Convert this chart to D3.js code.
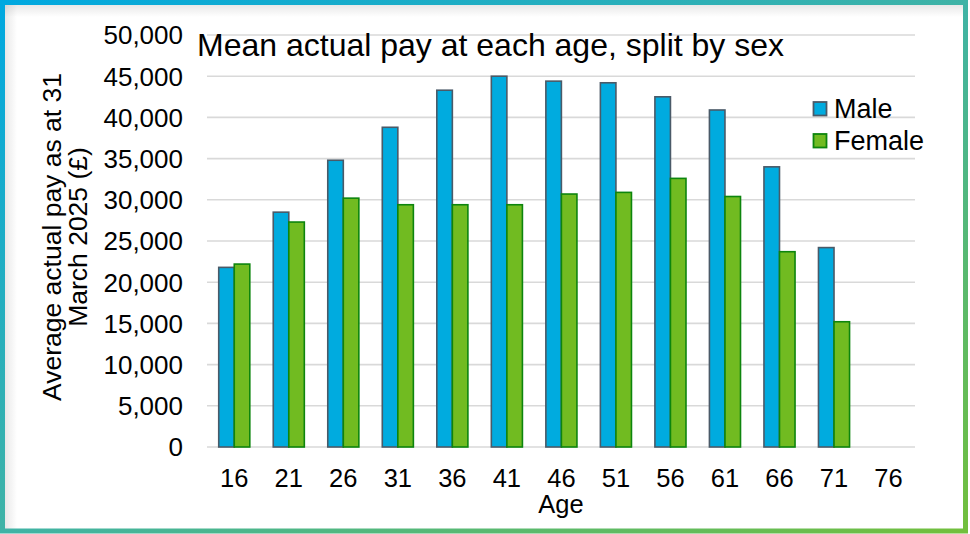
<!DOCTYPE html>
<html>
<head>
<meta charset="utf-8">
<script src="https://cdn.jsdelivr.net/npm/d3@7"></script>
<style>
  html, body { margin: 0; padding: 0; background: #fff; }
  svg { display: block; }
  text { font-family: "Liberation Sans", Arial, sans-serif; fill: #000; }
</style>
</head>
<body>
<div id="chart"></div>
<script>
const ages = [16, 21, 26, 31, 36, 41, 46, 51, 56, 61, 66, 71, 76];
const male = [21800, 28500, 34800, 38800, 43300, 45000, 44400, 44200, 42500, 40900, 34000, 24200, null];
const female = [22200, 27300, 30200, 29400, 29400, 29400, 30700, 30900, 32600, 30400, 23700, 15200, null];
const yTicks = [0, 5000, 10000, 15000, 20000, 25000, 30000, 35000, 40000, 45000, 50000];
const seriesNames = ["Male", "Female"];
const titleText = "Mean actual pay at each age, split by sex";
const yLabelLines = ["Average actual pay as at 31", "March 2025 (£)"];
const xLabelText = "Age";

const W = 970, H = 534;
const svg = d3.select("#chart").append("svg").attr("width", W).attr("height", H);
const defs = svg.append("defs");

// border gradient
const bg = defs.append("linearGradient").attr("id", "borderGrad")
  .attr("x1", "0").attr("y1", "0").attr("x2", "1").attr("y2", "1");
bg.append("stop").attr("offset", "0").attr("stop-color", "#00a8e0");
bg.append("stop").attr("offset", "0.5").attr("stop-color", "#3fb3a6");
bg.append("stop").attr("offset", "1").attr("stop-color", "#72bf3c");

// inner shadows
const sl = defs.append("linearGradient").attr("id", "shL").attr("x1", "0").attr("x2", "1").attr("y1", "0").attr("y2", "0");
sl.append("stop").attr("offset", "0").attr("stop-color", "#000").attr("stop-opacity", 0.09);
sl.append("stop").attr("offset", "1").attr("stop-color", "#000").attr("stop-opacity", 0);
const st = defs.append("linearGradient").attr("id", "shT").attr("x1", "0").attr("x2", "0").attr("y1", "0").attr("y2", "1");
st.append("stop").attr("offset", "0").attr("stop-color", "#000").attr("stop-opacity", 0.09);
st.append("stop").attr("offset", "1").attr("stop-color", "#000").attr("stop-opacity", 0);

svg.append("rect").attr("x", 0).attr("y", 0).attr("width", W).attr("height", H).attr("fill", "#fff");
svg.append("rect").attr("x", 5).attr("y", 5).attr("width", 12).attr("height", 524).attr("fill", "url(#shL)");
svg.append("rect").attr("x", 5).attr("y", 5).attr("width", 958).attr("height", 12).attr("fill", "url(#shT)");

const x = d3.scaleBand().domain(ages).range([207, 915.8]).paddingInner(0).paddingOuter(0);
const y = d3.scaleLinear().domain([0, 50000]).range([447, 35]);

// gridlines
svg.append("g").selectAll("line").data(yTicks).join("line")
  .attr("x1", 207).attr("x2", 915)
  .attr("y1", d => y(d)).attr("y2", d => y(d))
  .attr("stroke", "#d9d9d9").attr("stroke-width", 1.6);

// y tick labels
svg.append("g").selectAll("text").data(yTicks).join("text")
  .attr("x", 183).attr("y", d => y(d) + 9.3)
  .attr("text-anchor", "end").attr("font-size", 26)
  .text(d => d3.format(",")(d));

// x tick labels
svg.append("g").selectAll("text").data(ages).join("text")
  .attr("x", d => x(d) + x.bandwidth() / 2).attr("y", 487)
  .attr("text-anchor", "middle").attr("font-size", 25.5)
  .text(d => d);

// bars
const bw = x.bandwidth() * 0.285;
const cen = d => x(d) + x.bandwidth() / 2;
const maleData = ages.map((a, i) => ({ a, v: male[i] })).filter(d => d.v != null);
const femaleData = ages.map((a, i) => ({ a, v: female[i] })).filter(d => d.v != null);

svg.append("g").selectAll("rect").data(maleData).join("rect")
  .attr("x", d => cen(d.a) - bw).attr("width", bw)
  .attr("y", d => y(d.v)).attr("height", d => y(0) - y(d.v))
  .attr("fill", "#00abdf").attr("stroke", "#4a5a68").attr("stroke-width", 1.6);

svg.append("g").selectAll("rect").data(femaleData).join("rect")
  .attr("x", d => cen(d.a)).attr("width", bw)
  .attr("y", d => y(d.v)).attr("height", d => y(0) - y(d.v))
  .attr("fill", "#71bb21").attr("stroke", "#0d850d").attr("stroke-width", 1.6);

// title
svg.append("text").attr("x", 197).attr("y", 55.5).attr("font-size", 32).text(titleText);

// y label
yLabelLines.forEach((t, i) => {
  svg.append("text")
    .attr("transform", `translate(${61 + i * 26},${237}) rotate(-90)`)
    .attr("text-anchor", "middle").attr("font-size", 26.5).text(t);
});

// x label
svg.append("text").attr("x", (207 + 915) / 2).attr("y", 512.5)
  .attr("text-anchor", "middle").attr("font-size", 25.5).text(xLabelText);

// legend
const legColors = [["#00abdf", "#4a5a68"], ["#71bb21", "#0d850d"]];
seriesNames.forEach((n, i) => {
  const yy = 102 + i * 32;
  svg.append("rect").attr("x", 813.5).attr("y", yy).attr("width", 13).attr("height", 13.5)
    .attr("fill", legColors[i][0]).attr("stroke", legColors[i][1]).attr("stroke-width", 1.8);
  svg.append("text").attr("x", 834).attr("y", yy + 15.5).attr("font-size", 27).text(n);
});

// border
svg.append("rect").attr("x", 2.5).attr("y", 2.5).attr("width", 963).attr("height", 528.5)
  .attr("fill", "none").attr("stroke", "url(#borderGrad)").attr("stroke-width", 5);
</script>
</body>
</html>
